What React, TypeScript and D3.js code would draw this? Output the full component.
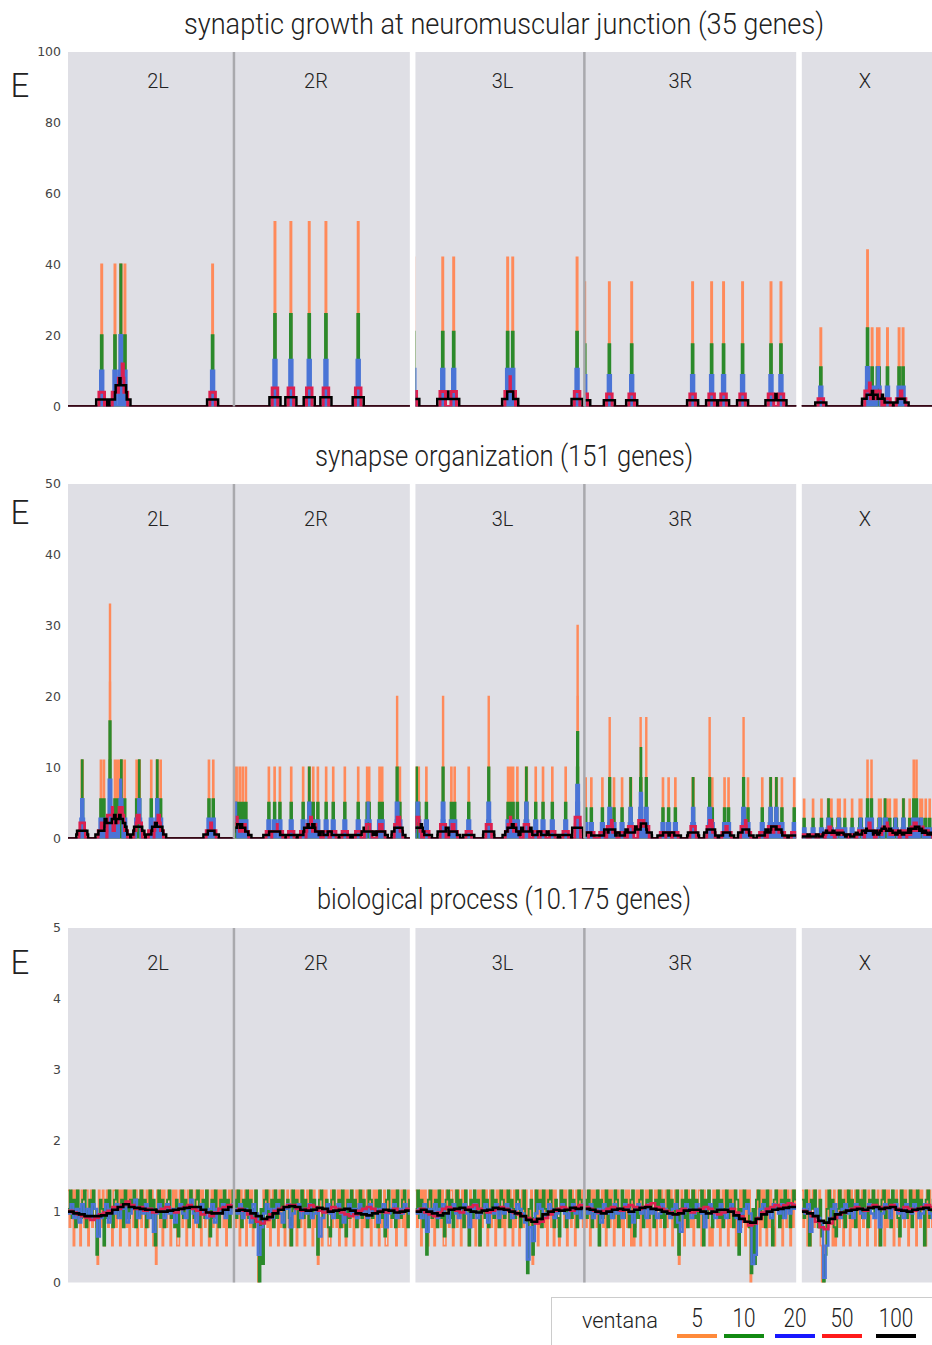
import React from 'react';
import * as d3 from 'd3';

// ---------- structure ----------
const ARMS = ['2L', '2R', '3L', '3R', 'X'];
const ARM_LENGTH: Record<string, number> = { '2L': 1501, '2R': 1591, '3L': 1528, '3R': 1916, X: 1250 }; // genes
const GROUPS = [['2L', '2R'], ['3L', '3R'], ['X']];
const ARM_LABEL_POS: Record<string, number> = { '2L': 814, '2R': 742, '3L': 787, '3R': 868, X: 570 };

const WINDOWS = [5, 10, 20, 50, 100];
const WINDOW_LABELS = ['5', '10', '20', '50', '100'];
const PLOT_COLORS = ['#ff8a5a', '#2b8a2b', '#4a74d6', '#dc2050', '#000000'];
const LEGEND_COLORS = ['#ff8a3a', '#128a12', '#1818ff', '#ff1a1a', '#000000'];
const LINE_WIDTHS_SPARSE = [
  [2.4, 2.6, 3.2, 3, 2.5],
  [2.1, 2.4, 3, 2.8, 2.5],
];
const LINE_WIDTHS_DENSE = [1.6, 1.9, 2.4, 2.6, 2.7];

const PANEL_TITLES = [
  'synaptic growth at neuromuscular junction (35 genes)',
  'synapse organization (151 genes)',
  'biological process (10.175 genes)',
];
const PANEL_YMAX = [100, 50, 5];
const PANEL_TICKS = [
  [0, 20, 40, 60, 80, 100],
  [0, 10, 20, 30, 40, 50],
  [0, 1, 2, 3, 4, 5],
];

// ---------- panel 1: gene positions (gene index along arm) ----------
const JUNCTION_HITS: Record<string, number[]> = {
  '2L': [305, 425, 475, 481, 515, 1308],
  '2R': [371, 515, 681, 832, 1124],
  '3L': [-15, 247, 346, 834, 880, 1462],
  '3R': [3, 226, 428, 979, 1151, 1259, 1431, 1688, 1778],
  X: [172, 594, 595, 636, 684, 699, 775, 880, 916],
};
// enrichment of a single gene in a 5-gene window, per arm
const JUNCTION_SINGLE_E: Record<string, number> = { '2L': 40, '2R': 52, '3L': 42, '3R': 35, X: 22 };

// ---------- panel 2 ----------
const SYNAPSE_HITS: Record<string, number[]> = {
  '2L': [125, 132, 298, 325, 379, 380, 381, 425, 446, 467, 479, 486, 513, 621, 641, 648, 753, 804, 811, 838, 1275, 1314],
  '2R': [6, 24, 52, 79, 108, 316, 368, 416, 518, 626, 678, 685, 717, 759, 834, 898, 1003, 1124, 1205, 1223, 1317, 1341, 1475, 1477, 1501],
  '3L': [8, 16, 30, 99, 249, 251, 325, 355, 482, 662, 664, 838, 862, 883, 922, 1000, 1007, 1088, 1154, 1238, 1359, 1466, 1467, 1468],
  '3R': [12, 63, 163, 228, 230, 268, 341, 415, 422, 508, 510, 515, 559, 561, 711, 762, 823, 980, 987, 1132, 1134, 1157, 1268, 1304, 1439, 1441, 1480, 1609, 1681, 1688, 1733, 1740, 1787, 1898],
  X: [21, 102, 178, 238, 245, 268, 328, 342, 389, 455, 524, 538, 594, 595, 630, 631, 699, 713, 750, 757, 771, 796, 841, 855, 916, 923, 976, 1012, 1013, 1037, 1038, 1073, 1087, 1121, 1157, 1211],
};
const SYNAPSE_SINGLE_E: Record<string, number> = { '2L': 11, '2R': 10, '3L': 10, '3R': 8.5, X: 5.5 };

// ---------- panel 3: annotated genes per window (count k of w), sampled along each arm ----------
const BIO_FRACTION = 0.77;
const BIO_STEP = [12, 16, 24, 40, 50]; // genes between samples for each window size
const BIO_W5: Record<string, number[]> = {
  '2L': [5,3,4,5,2,5,3,5,4,2, 5,4,3,5,5,2,4,5,3,5, 4,3,1,5,4,3,5,2,4,5, 3,5,4,2,5,5,3,4,5,2, 5,3,5,4,3,5,2,5,4,3, 5,5,2,4,5,3,5,4,2,5, 3,5,4,5,2,3,1,5,4,3, 5,2,5,4,3,5,5,2,4,5, 3,5,2,2,5,4,3,5,4,2, 5,3,5,5,2,4,5,3,4,5, 2,5,4,3,5,5,2,4,5,3, 5,4,2,5,3,5,4,3,5,2, 4,5,3,5,5,3],
  '2R': [5,3,5,4,2,5,3,4,5,2, 4,5,3,5,2,4,5,3,0,1, 3,2,5,4,5,3,5,2,4,5, 3,5,4,2,5,3,5,5,2,4, 5,3,2,5,4,3,5,2,5,4, 3,5,5,2,4,5,3,5,4,2, 5,3,4,1,5,4,2,5,3,5, 4,2,2,5,3,5,4,3,5,2, 5,4,3,5,2,5,4,3,5,5, 2,4,5,3,5,4,2,5,3,4, 5,3,5,2,4,5,3,5,4,2, 5,3,4,5,2,2,5,4,3,5, 4,5,2,5,3,4,5,3,5,2, 4,5,3],
  '3L': [5,3,4,5,2,5,3,5,4,2, 5,4,3,5,2,5,3,4,5,3, 5,2,2,5,4,3,5,5,2,4, 5,3,5,4,2,5,3,5,4,3, 2,5,4,3,5,2,4,5,2,5, 3,5,4,5,2,4,5,3,5,4, 2,5,3,5,4,3,5,2,5,4, 3,5,4,2,5,3,5,5,2,4, 5,3,4,5,1,4,3,5,1,3, 5,4,2,5,3,5,4,3,5,2, 5,4,3,5,2,5,4,3,2,5, 4,5,3,5,2,4,5,3,5,4, 2,5,3,5,4,5,3,4],
  '3R': [5,3,4,5,2,5,3,5,4,3, 5,2,4,5,3,5,2,4,5,3, 5,4,2,5,3,5,4,3,5,2, 4,5,3,5,4,2,5,2,3,5, 4,5,2,5,3,4,5,3,5,2, 5,4,3,5,2,5,4,3,5,4, 2,5,3,5,4,5,2,4,5,3, 5,1,3,5,4,2,5,3,5,4, 3,5,2,5,4,3,5,5,2,4, 5,3,4,5,2,3,2,5,4,5, 3,5,2,4,5,3,5,4,2,5, 3,5,4,5,2,4,2,5,3,5, 4,2,5,3,5,0,1,4,1,3, 5,4,2,5,3,5,4,2,5,3, 5,4,3,2,5,4,5,3,5,2, 4,5,3,5,4,2,5,3,5,4],
  X: [5,3,4,5,2,5,2,4,5,3, 5,4,3,5,2,0,0,2,5,4, 3,5,4,2,5,2,4,5,3,5, 4,2,5,3,5,4,2,5,3,4, 5,3,5,2,4,5,3,5,4,2, 5,3,4,5,5,2,4,5,2,3, 5,4,2,5,3,5,4,3,5,2, 4,5,3,2,5,4,5,3,5,4, 2,5,3,5,4,5,2,4,5,3, 5,4,2,2,5,3,5,4,3,5, 2,4,5,3,5],
};
const BIO_W10: Record<string, number[]> = {
  '2L': [8,10,7,9,6,10,8,7,9,10, 6,8,9,7,10,8,3,7,9,8, 4,9,7,10,8,6,9,10,7,8, 9,6,10,8,7,9,8,10,6,9, 7,10,8,9,6,8,10,7,9,4, 8,10,7,9,6,8,9,10,7,8, 6,9,5,8,10,7,9,8,6,10, 8,7,9,10,6,8,9,7,10,8, 5,9,7,10,8,6,9,8,10,7, 9,6,8,10],
  '2R': [9,7,10,8,6,9,8,10,7,9, 8,6,10,7,0,8,2,9,10,7, 8,9,6,10,7,9,8,10,6,8, 9,7,4,10,8,9,6,8,10,7, 9,8,6,10,7,9,8,3,9,10, 7,8,9,6,5,9,10,8,7,9, 6,10,8,5,9,7,10,8,9,6, 8,10,7,9,8,6,10,9,7,8, 9,6,10,7,8,5,9,10,8,7, 9,6,10,8,7,9,10,8,6,9],
  '3L': [8,10,7,9,6,8,3,9,10,7, 8,9,6,10,7,8,5,9,10,7, 9,6,8,10,7,9,8,6,10,8, 4,9,7,10,8,9,4,8,10,7, 9,6,8,10,7,9,8,6,10,9, 7,8,10,6,9,8,7,10,9,6, 8,10,7,1,8,9,3,7,10,8, 9,6,10,8,7,9,10,8,6,9, 7,5,10,8,9,6,8,10,7,9, 8,6,10,9,7,8],
  '3R': [9,7,10,8,6,9,8,10,4,9, 7,8,10,6,9,8,7,10,9,6, 8,10,7,9,8,6,9,10,5,8, 7,9,10,6,8,9,7,10,8,6, 9,8,10,7,9,6,8,10,7,9, 8,6,10,3,8,9,7,10,6,9, 8,10,7,9,6,8,10,4,9,7, 10,8,6,9,8,10,7,9,6,8, 10,7,9,8,6,10,9,3,8,7, 10,8,9,6,1,8,2,9,10,7, 8,9,6,10,8,7,4,9,10,8, 6,9,7,10,8,9,6,8,10,9],
  X: [9,7,10,8,4,9,8,10,7,6, 9,5,0,3,8,10,7,9,6,5, 8,10,7,9,6,8,10,7,9,8, 6,10,8,9,7,10,8,6,9,8, 10,7,9,8,4,9,10,7,8,9, 6,10,8,9,7,5,10,8,9,7, 8,10,6,9,8,10,7,9,8,4, 9,10,7,8,9,6,10,8,9],
};
const BIO_W20: Record<string, number[]> = {
  '2L': [15,17,14,16,13,17,15,16,14,17, 16,10,14,15,17,13,16,15,17,14, 16,17,13,15,16,18,14,16,15,17, 14,16,11,15,17,16,14,17,15,16, 13,16,17,15,14,16,18,15,13,16, 17,15,14,16,17,13,16,15,17,14, 16,15,17],
  '2R': [16,15,17,14,16,15,13,17,15,6, 12,15,17,16,14,16,17,15,13,16, 17,12,15,16,17,14,16,15,17,14, 15,16,10,14,16,17,15,14,16,17, 15,13,16,17,15,16,14,17,15,16, 14,17,15,16,13,16,17,12,15,16, 17,14,16,15,17,16,15],
  '3L': [15,16,14,17,11,16,15,17,14,16, 17,15,13,16,17,15,14,16,17,15, 12,16,17,14,15,16,17,13,16,15, 17,14,16,15,17,16,14,15,17,16, 15,13,5,12,9,15,17,16,14,15, 17,16,14,15,16,17,15,14,16,17, 15,16,14,17],
  '3R': [16,15,17,14,15,16,13,17,15,16, 14,17,15,16,14,17,16,15,13,16, 17,15,16,14,17,15,16,14,15,17, 16,15,14,16,17,13,11,15,17,16, 14,15,17,16,15,12,16,17,15,14, 16,17,15,14,16,17,15,14,11,15, 16,17,15,4,6,14,16,17,15,16, 14,17,16,15,17,14,16,15,17,16],
  X: [16,15,17,11,15,16,14,13,1,8, 14,16,17,15,14,16,17,15,16,14, 17,16,15,14,16,17,15,14,16,12, 15,17,16,14,16,17,15,16,14,17, 16,15,17,16,14,15,17,16,15,14, 16,17,15],
};
const BIO_W50: Record<string, number[]> = {
  '2L': [39,38,37,36,35,34,35,37,38,39, 41,40,42,44,42,40,41,39,40,38, 39,40,41,39,38,40,41,42,40,39, 37,38,36,38,40,41,42,41],
  '2R': [39,40,39,37,35,33,32,34,37,39, 40,41,42,42,40,39,40,42,41,39, 38,39,41,40,38,37,36,37,39,40, 41,40,38,39,38,39,40,38,39,40],
  '3L': [39,40,38,37,36,38,40,41,40,39, 38,40,41,42,40,39,38,39,40,41, 40,39,38,37,36,35,34,32,33,35, 37,39,40,41,40,39,41,42,41],
  '3R': [41,40,39,38,39,40,41,40,39,41, 42,41,40,41,42,43,41,40,39,38, 37,39,40,39,38,39,40,41,40,38, 37,38,39,40,38,36,33,31,32,35, 38,40,41,42,41,42,43,42],
  X: [39,38,36,33,30,29,32,35,37,38, 39,40,41,40,39,41,42,41,40,41, 42,40,39,41,40,39,40,41,42,41, 40,41],
};
const BIO_W100: Record<string, number[]> = {
  '2L': [77,75,74,72,72,72,73,75,79,82, 85,82,81,80,79,79,77,77,78,79, 80,81,82,82,79,76,75,75,79,82, 83],
  '2R': [78,79,78,75,72,69,71,75,79,82, 83,82,79,78,79,81,80,77,78,79, 80,78,75,74,73,75,77,79,78,76, 77,78],
  '3L': [77,79,77,75,73,75,79,80,81,79, 77,76,78,79,81,80,79,77,75,72, 68,66,69,74,77,79,78,79,81,80, 81],
  '3R': [80,79,77,75,77,79,80,79,77,79, 81,82,80,79,77,75,74,75,78,79, 79,77,75,77,79,79,77,73,69,66, 65,69,74,77,79,80,81,82,82],
  X: [77,75,72,67,65,69,74,76,78,79, 80,79,81,82,80,81,82,79,78,77, 79,80,81,79,80],
};
const BIO_SERIES = [BIO_W5, BIO_W10, BIO_W20, BIO_W50, BIO_W100];

// ---------- layout ----------
const W = 932;
const H = 1345;
const PLOT_LEFT = 68;
const PLOT_RIGHT = 940;
const GROUP_GAP = 5.6;
const PANEL_TOP = [52, 484, 928];
const PANEL_H = 354.5;
const TITLE_Y = [34, 466, 909];
const TITLE_LEN = [640, 378, 374];
const E_DY = [33, 28, 34];
const ARM_LABEL_DY = [28.5, 35, 34.5];
const BG = '#dfdfe5';
const LIGHT_FONT = "Roboto, 'Open Sans', 'Noto Sans', sans-serif";
const TICK_FONT = "'DejaVu Sans', sans-serif";

type Pt = [number, number];

function windowSteps(hits: number[], w: number, len: number, singleE: number): Pt[] {
  const ev: Pt[] = [];
  hits.forEach((h) => {
    ev.push([h - w / 2, 1]);
    ev.push([h + w / 2, -1]);
  });
  ev.sort((a, b) => a[0] - b[0] || a[1] - b[1]);
  const k = (singleE * 5) / w;
  const pts: Pt[] = [[-w - 60, 0]];
  let c = 0;
  let i = 0;
  while (i < ev.length) {
    const x = ev[i][0];
    let nc = c;
    while (i < ev.length && ev[i][0] === x) {
      nc += ev[i][1];
      i++;
    }
    if (nc !== c) {
      pts.push([x, c * k]);
      pts.push([x, nc * k]);
      c = nc;
    }
  }
  pts.push([len + w + 60, 0]);
  return pts;
}

function sampledSteps(counts: number[], step: number, w: number, len: number): Pt[] {
  const pts: Pt[] = [];
  counts.forEach((cnt, i) => {
    const e = cnt / (w * BIO_FRACTION);
    pts.push([i * step, e]);
    pts.push([Math.min((i + 1) * step, len), e]);
  });
  return pts;
}

export default function App() {
  const groupLens = GROUPS.map((g) => d3.sum(g, (a) => ARM_LENGTH[a]));
  const total = d3.sum(groupLens);
  const pxPerGene = (PLOT_RIGHT - PLOT_LEFT - GROUP_GAP * (GROUPS.length - 1)) / total;
  let cursor = PLOT_LEFT;
  const groups = GROUPS.map((g, gi) => {
    const x0 = cursor;
    const x1 = x0 + groupLens[gi] * pxPerGene;
    cursor = x1 + GROUP_GAP;
    const scale = d3.scaleLinear().domain([0, groupLens[gi]]).range([x0, x1]);
    let off = 0;
    const arms = g.map((a) => {
      const o = off;
      off += ARM_LENGTH[a];
      return { arm: a, offset: o };
    });
    return { x0, x1, scale, arms };
  });

  const hitPanels = [
    { hits: JUNCTION_HITS, single: JUNCTION_SINGLE_E },
    { hits: SYNAPSE_HITS, single: SYNAPSE_SINGLE_E },
  ];

  return (
    <svg
      width={W}
      height={H}
      viewBox={`0 0 ${W} ${H}`}
      style={{ position: 'absolute', left: 0, top: 0, background: '#fff', overflow: 'hidden' }}
    >
      <defs>
        {PANEL_TOP.map((top, pi) =>
          groups.map((g) =>
            g.arms.map((a) => (
              <clipPath id={`clip-${pi}-${a.arm}`} key={`${pi}-${a.arm}`}>
                <rect
                  x={g.scale(a.offset)}
                  y={top}
                  width={g.scale(a.offset + ARM_LENGTH[a.arm]) - g.scale(a.offset)}
                  height={PANEL_H}
                />
              </clipPath>
            ))
          )
        )}
      </defs>

      {PANEL_TOP.map((top, pi) => {
        const bottom = top + PANEL_H;
        const y = d3.scaleLinear().domain([0, PANEL_YMAX[pi]]).range([bottom, top]);
        return (
          <g key={pi}>
            <text
              x={(PLOT_LEFT + PLOT_RIGHT) / 2}
              y={TITLE_Y[pi]}
              textAnchor="middle"
              fontFamily={LIGHT_FONT}
              fontWeight={300}
              fontSize={29}
              fill="#222"
              textLength={TITLE_LEN[pi]}
              lengthAdjust="spacingAndGlyphs"
            >
              {PANEL_TITLES[pi]}
            </text>
            <text
              x={20}
              y={top + E_DY[pi]}
              textAnchor="middle"
              dominantBaseline="central"
              fontFamily={LIGHT_FONT}
              fontWeight={300}
              fontSize={33}
              fill="#222"
            >
              E
            </text>
            {PANEL_TICKS[pi].map((t) => (
              <text
                key={t}
                x={61}
                y={y(t)}
                dy="0.35em"
                textAnchor="end"
                fontFamily={TICK_FONT}
                fontSize={12.5}
                fill="#444"
              >
                {t}
              </text>
            ))}
            {groups.map((g, gi) => (
              <rect key={gi} x={g.x0} y={top} width={g.x1 - g.x0} height={PANEL_H} fill={BG} />
            ))}
            {groups.map((g, gi) =>
              g.arms.map((a) => {
                const len = ARM_LENGTH[a.arm];
                const line = d3
                  .line<Pt>()
                  .x((d) => g.scale(a.offset + d[0]))
                  .y((d) => y(d[1]));
                return (
                  <g key={`${gi}-${a.arm}`} clipPath={`url(#clip-${pi}-${a.arm})`}>
                    {WINDOWS.map((w, wi) => {
                      const pts =
                        pi < 2
                          ? windowSteps(hitPanels[pi].hits[a.arm], w, len, hitPanels[pi].single[a.arm])
                          : sampledSteps(BIO_SERIES[wi][a.arm], BIO_STEP[wi], w, len);
                      return (
                        <path
                          key={w}
                          d={line(pts) || ''}
                          fill="none"
                          stroke={PLOT_COLORS[wi]}
                          strokeWidth={pi < 2 ? LINE_WIDTHS_SPARSE[pi][wi] : LINE_WIDTHS_DENSE[wi]}
                          strokeLinejoin="miter"
                        />
                      );
                    })}
                  </g>
                );
              })
            )}
            {groups.map((g, gi) =>
              g.arms.slice(1).map((a) => (
                <line
                  key={`div-${gi}-${a.arm}`}
                  x1={g.scale(a.offset)}
                  x2={g.scale(a.offset)}
                  y1={top}
                  y2={bottom}
                  stroke="#a9a9ad"
                  strokeWidth={2.5}
                />
              ))
            )}
            {groups.map((g, gi) =>
              g.arms.map((a) => (
                <text
                  key={`lab-${gi}-${a.arm}`}
                  x={g.scale(a.offset + ARM_LABEL_POS[a.arm])}
                  y={top + ARM_LABEL_DY[pi]}
                  textAnchor="middle"
                  dominantBaseline="central"
                  fontFamily={LIGHT_FONT}
                  fontWeight={300}
                  fontSize={20}
                  fill="#222"
                >
                  {a.arm}
                </text>
              ))
            )}
          </g>
        );
      })}

      {/* legend */}
      <g>
        <rect x={551.5} y={1297.5} width={420} height={60} fill="#fff" stroke="#cccccc" strokeWidth={1} />
        <text
          x={582}
          y={1328}
          fontFamily={LIGHT_FONT}
          fontWeight={300}
          fontSize={22}
          fill="#222"
          textLength={76}
          lengthAdjust="spacingAndGlyphs"
        >
          ventana
        </text>
        {WINDOW_LABELS.map((lab, i) => {
          const cx = [697, 744, 795, 842, 896][i];
          return (
            <g key={lab}>
              <text
                x={cx}
                y={1327}
                textAnchor="middle"
                fontFamily={LIGHT_FONT}
                fontWeight={300}
                fontSize={25}
                fill="#222"
                textLength={lab.length * 11.5}
                lengthAdjust="spacingAndGlyphs"
              >
                {lab}
              </text>
              <line x1={cx - 20} x2={cx + 20} y1={1336} y2={1336} stroke={LEGEND_COLORS[i]} strokeWidth={4} />
            </g>
          );
        })}
      </g>
    </svg>
  );
}
